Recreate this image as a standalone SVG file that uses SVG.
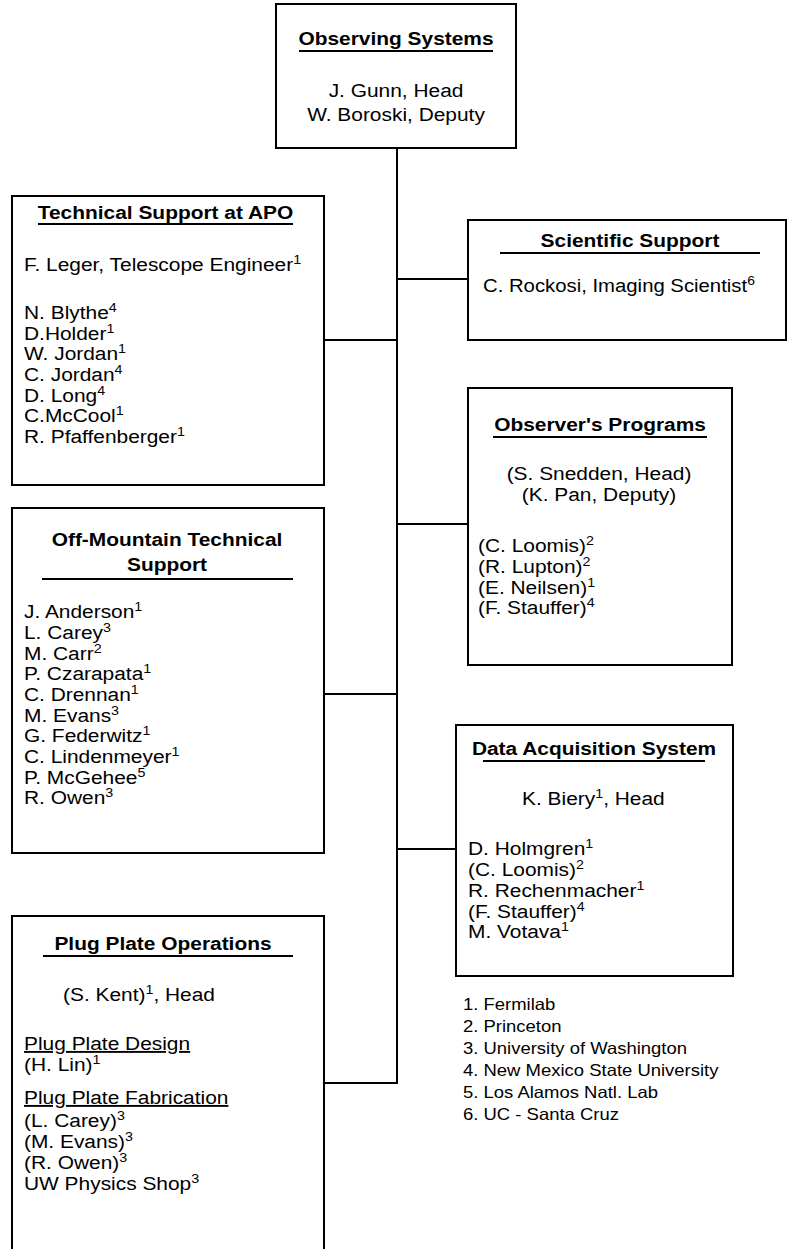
<svg xmlns="http://www.w3.org/2000/svg" width="787" height="1249" viewBox="0 0 787 1249">
<style>
text{font-family:"Liberation Sans",Arial,sans-serif;font-size:19px;fill:#000}
.b{font-weight:bold}
.m{text-anchor:middle}
.s{font-size:13px}
.lg{font-size:16.5px}
.u{text-decoration:underline}
.box{fill:#fff;stroke:#000;stroke-width:2}
.ul{stroke:#000;stroke-width:2}
#connectors line{stroke:#000;stroke-width:2}
</style>
<rect width="787" height="1249" fill="#fff"/>
<g id="connectors">
<line x1="397" y1="148" x2="397" y2="1084"/>
<line x1="324" y1="340" x2="397" y2="340"/>
<line x1="397" y1="279" x2="468" y2="279"/>
<line x1="397" y1="524" x2="468" y2="524"/>
<line x1="324" y1="694" x2="397" y2="694"/>
<line x1="397" y1="849" x2="456" y2="849"/>
<line x1="324" y1="1083" x2="397" y2="1083"/>
</g>
<g id="observing-systems">
<rect class="box" x="276" y="4" width="240" height="144"/>
<text class="b m" transform="translate(396,45) scale(1.1,1)">Observing Systems</text>
<line class="ul" x1="299" y1="51" x2="493" y2="51"/>
<text class="m" transform="translate(396,97) scale(1.1,1)">J. Gunn, Head</text>
<text class="m" transform="translate(396,121) scale(1.1,1)">W. Boroski, Deputy</text>
</g>
<g id="technical-support-apo">
<rect class="box" x="12" y="196" width="312" height="289"/>
<text class="b m" transform="translate(165.5,219) scale(1.1,1)">Technical Support at APO</text>
<line class="ul" x1="38" y1="224" x2="293" y2="224"/>
<text transform="translate(24,271) scale(1.1,1)">F. Leger, Telescope Engineer<tspan class="s" dy="-7">1</tspan></text>
<text transform="translate(24,319) scale(1.1,1)">N. Blythe<tspan class="s" dy="-7">4</tspan></text>
<text transform="translate(24,340) scale(1.1,1)">D.Holder<tspan class="s" dy="-7">1</tspan></text>
<text transform="translate(24,360) scale(1.1,1)">W. Jordan<tspan class="s" dy="-7">1</tspan></text>
<text transform="translate(24,381) scale(1.1,1)">C. Jordan<tspan class="s" dy="-7">4</tspan></text>
<text transform="translate(24,402) scale(1.1,1)">D. Long<tspan class="s" dy="-7">4</tspan></text>
<text transform="translate(24,422) scale(1.1,1)">C.McCool<tspan class="s" dy="-7">1</tspan></text>
<text transform="translate(24,443) scale(1.1,1)">R. Pfaffenberger<tspan class="s" dy="-7">1</tspan></text>
</g>
<g id="scientific-support">
<rect class="box" x="468" y="220" width="318" height="120"/>
<text class="b m" transform="translate(630,247) scale(1.1,1)">Scientific Support</text>
<line class="ul" x1="500" y1="253" x2="760" y2="253"/>
<text transform="translate(483,292) scale(1.07,1)">C. Rockosi, Imaging Scientist<tspan class="s" dy="-7">6</tspan></text>
</g>
<g id="observers-programs">
<rect class="box" x="468" y="388" width="264" height="277"/>
<text class="b m" transform="translate(600,431) scale(1.1,1)">Observer's Programs</text>
<line class="ul" x1="493" y1="437" x2="707" y2="437"/>
<text class="m" transform="translate(599,480) scale(1.1,1)">(S. Snedden, Head)</text>
<text class="m" transform="translate(599,501) scale(1.1,1)">(K. Pan, Deputy)</text>
<text transform="translate(478,552) scale(1.1,1)">(C. Loomis)<tspan class="s" dy="-7">2</tspan></text>
<text transform="translate(478,573) scale(1.1,1)">(R. Lupton)<tspan class="s" dy="-7">2</tspan></text>
<text transform="translate(478,594) scale(1.1,1)">(E. Neilsen)<tspan class="s" dy="-7">1</tspan></text>
<text transform="translate(478,614) scale(1.1,1)">(F. Stauffer)<tspan class="s" dy="-7">4</tspan></text>
</g>
<g id="off-mountain-support">
<rect class="box" x="12" y="508" width="312" height="345"/>
<text class="b m" transform="translate(167,546) scale(1.1,1)">Off-Mountain Technical</text>
<text class="b m" transform="translate(167,571) scale(1.1,1)">Support</text>
<line class="ul" x1="42" y1="579" x2="293" y2="579"/>
<text transform="translate(24,618) scale(1.1,1)">J. Anderson<tspan class="s" dy="-7">1</tspan></text>
<text transform="translate(24,639) scale(1.1,1)">L. Carey<tspan class="s" dy="-7">3</tspan></text>
<text transform="translate(24,660) scale(1.1,1)">M. Carr<tspan class="s" dy="-7">2</tspan></text>
<text transform="translate(24,680) scale(1.1,1)">P. Czarapata<tspan class="s" dy="-7">1</tspan></text>
<text transform="translate(24,701) scale(1.1,1)">C. Drennan<tspan class="s" dy="-7">1</tspan></text>
<text transform="translate(24,722) scale(1.1,1)">M. Evans<tspan class="s" dy="-7">3</tspan></text>
<text transform="translate(24,742) scale(1.1,1)">G. Federwitz<tspan class="s" dy="-7">1</tspan></text>
<text transform="translate(24,763) scale(1.1,1)">C. Lindenmeyer<tspan class="s" dy="-7">1</tspan></text>
<text transform="translate(24,784) scale(1.1,1)">P. McGehee<tspan class="s" dy="-7">5</tspan></text>
<text transform="translate(24,804) scale(1.1,1)">R. Owen<tspan class="s" dy="-7">3</tspan></text>
</g>
<g id="data-acquisition">
<rect class="box" x="456" y="725" width="277" height="251"/>
<text class="b m" transform="translate(594,755) scale(1.1,1)">Data Acquisition System</text>
<line class="ul" x1="483" y1="761" x2="705" y2="761"/>
<text transform="translate(522,805) scale(1.1,1)">K. Biery<tspan class="s" dy="-7">1</tspan><tspan dy="7">, Head</tspan></text>
<text transform="translate(468,855) scale(1.1,1)">D. Holmgren<tspan class="s" dy="-7">1</tspan></text>
<text transform="translate(468,876) scale(1.1,1)">(C. Loomis)<tspan class="s" dy="-7">2</tspan></text>
<text transform="translate(468,897) scale(1.1,1)">R. Rechenmacher<tspan class="s" dy="-7">1</tspan></text>
<text transform="translate(468,918) scale(1.1,1)">(F. Stauffer)<tspan class="s" dy="-7">4</tspan></text>
<text transform="translate(468,938) scale(1.1,1)">M. Votava<tspan class="s" dy="-7">1</tspan></text>
</g>
<g id="plug-plate-operations">
<rect class="box" x="12" y="916" width="312" height="360"/>
<text class="b m" transform="translate(163,950) scale(1.1,1)">Plug Plate Operations</text>
<line class="ul" x1="43" y1="956" x2="293" y2="956"/>
<text transform="translate(63,1001) scale(1.1,1)">(S. Kent)<tspan class="s" dy="-7">1</tspan><tspan dy="7">, Head</tspan></text>
<text class="u" transform="translate(24,1050) scale(1.1,1)">Plug Plate Design</text>
<text transform="translate(24,1071) scale(1.1,1)">(H. Lin)<tspan class="s" dy="-7">1</tspan></text>
<text class="u" transform="translate(24,1104) scale(1.1,1)">Plug Plate Fabrication</text>
<text transform="translate(24,1127) scale(1.1,1)">(L. Carey)<tspan class="s" dy="-7">3</tspan></text>
<text transform="translate(24,1148) scale(1.1,1)">(M. Evans)<tspan class="s" dy="-7">3</tspan></text>
<text transform="translate(24,1169) scale(1.1,1)">(R. Owen)<tspan class="s" dy="-7">3</tspan></text>
<text transform="translate(24,1190) scale(1.1,1)">UW Physics Shop<tspan class="s" dy="-7">3</tspan></text>
</g>
<g id="legend">
<text class="lg" transform="translate(463,1010) scale(1.12,1)">1. Fermilab</text>
<text class="lg" transform="translate(463,1032) scale(1.12,1)">2. Princeton</text>
<text class="lg" transform="translate(463,1054) scale(1.12,1)">3. University of Washington</text>
<text class="lg" transform="translate(463,1076) scale(1.12,1)">4. New Mexico State University</text>
<text class="lg" transform="translate(463,1098) scale(1.12,1)">5. Los Alamos Natl. Lab</text>
<text class="lg" transform="translate(463,1120) scale(1.12,1)">6. UC - Santa Cruz</text>
</g>
</svg>
